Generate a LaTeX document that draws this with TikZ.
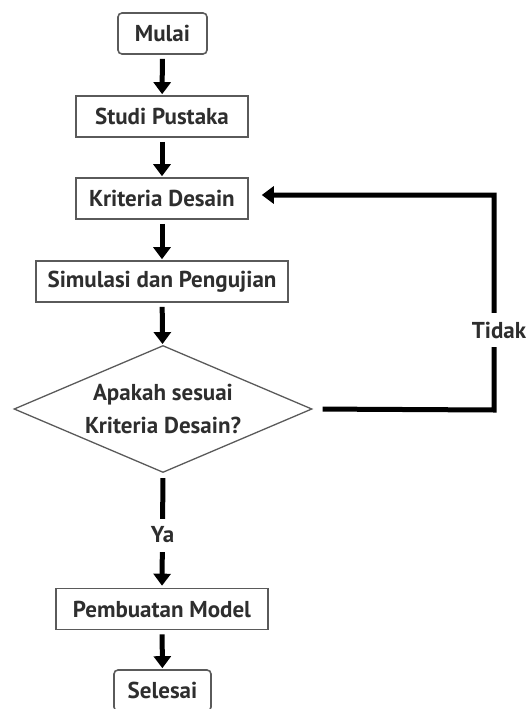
\documentclass[tikz,border=0pt]{standalone}
\usepackage{fontspec}
\setmainfont{PT Sans}
\usetikzlibrary{arrows.meta,shapes.geometric}
\definecolor{edge}{HTML}{5A5A5A}
\definecolor{ink}{HTML}{2E2E2E}
\tikzset{
  txt/.style={text=ink, font=\fontsize{23}{33}\selectfont\bfseries},
  box/.style={draw=edge, line width=1.6pt, txt, inner sep=0pt, minimum height=41pt},
  rbox/.style={box, rounded corners=4pt},
  dbox/.style={diamond, draw=edge, line width=1.3pt, txt, align=center, inner sep=0pt, shape aspect=2.35, minimum width=298pt, minimum height=127pt},
  arr/.style={line width=5pt, -{Triangle[width=17pt,length=12pt]}},
  lbl/.style={fill=white, txt, inner sep=0pt}
}
\begin{document}
\begin{tikzpicture}[x=1pt,y=-1pt]
\useasboundingbox (0,0) rectangle (529,709);
\node[rbox, minimum width=89pt] (ml) at (162.5,33.5) {Mulai};
\node[box, minimum width=172pt] (sp) at (162,116.5) {Studi Pustaka};
\node[box, minimum width=172pt] (kd) at (162,198.5) {Kriteria Desain};
\node[box, minimum width=252pt] (sd) at (162,281.5) {Simulasi dan Pengujian};
\node[dbox] (dm) at (163,409) {Apakah sesuai\\Kriteria Desain?};
\node[box, minimum width=212pt] (pm) at (162,609) {Pembuatan Model};
\node[rbox, minimum width=97pt] (se) at (162.5,690.5) {Selesai};
\coordinate (tc) at (494,410);
\coordinate (tt) at (494,195);
\draw[arr, shorten <=4pt, shorten >=1pt] (ml) -- (sp);
\draw[arr, shorten <=4pt, shorten >=1pt] (sp) -- (kd);
\draw[arr, shorten <=4pt, shorten >=1pt] (kd) -- (sd);
\draw[arr, shorten <=4pt, shorten >=1pt] (sd) -- (dm);
\draw[arr, shorten <=5pt, shorten >=2pt] (dm.south) -- node[lbl, pos=0.54, minimum height=33pt] {Ya} (pm.north);
\draw[arr, shorten <=4pt, shorten >=1pt] (pm) -- (se);
\draw[arr, line join=miter, shorten <=10pt, shorten >=13pt] (dm.east) -- (tc) -- node[lbl, pos=0.37, minimum height=34pt, xshift=5pt] {Tidak} (tt) -- (kd.east |- tt);
\end{tikzpicture}
\end{document}
